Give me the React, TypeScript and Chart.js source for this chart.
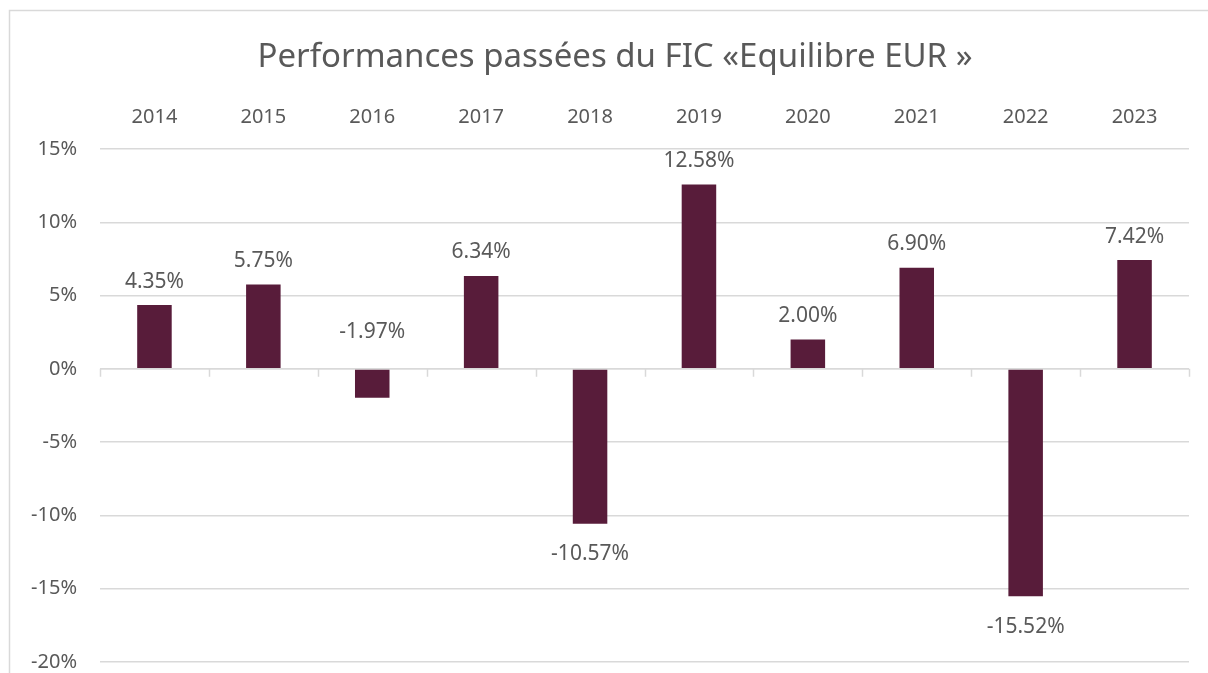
import React, { useEffect, useRef } from "react";
import { Chart, registerables } from "chart.js";

Chart.register(...registerables);

const years = ["2014", "2015", "2016", "2017", "2018", "2019", "2020", "2021", "2022", "2023"];
const performance = [4.35, 5.75, -1.97, 6.34, -10.57, 12.58, 2.0, 6.9, -15.52, 7.42];
const yTicks = [15, 10, 5, 0, -5, -10, -15, -20];
const titleText = "Performances passées du FIC «Equilibre EUR »";

const FONT = "'Noto Sans', sans-serif";
const TEXT = "#595959";
const GRID = "#d9d9d9";
const BAR = "#581c3a";

const framePlugin = {
  id: "frame",
  beforeDraw(chart: any) {
    const ctx = chart.ctx;
    ctx.save();
    ctx.fillStyle = "#ffffff";
    ctx.fillRect(0, 0, chart.width, chart.height);
    ctx.strokeStyle = GRID;
    ctx.lineWidth = 1.5;
    ctx.strokeRect(9.5, 10.5, chart.width + 20, chart.height + 20);
    ctx.font = `33px ${FONT}`;
    ctx.fillStyle = TEXT;
    ctx.textAlign = "center";
    ctx.textBaseline = "middle";
    ctx.fillText(titleText, 615, 58);
    ctx.restore();
  },
};

const zeroTicksPlugin = {
  id: "zeroTicks",
  afterDatasetsDraw(chart: any) {
    const ctx = chart.ctx;
    const y = chart.scales.y.getPixelForValue(0);
    const { left, right } = chart.chartArea;
    const n = years.length;
    ctx.save();
    ctx.strokeStyle = GRID;
    ctx.lineWidth = 1.5;
    ctx.beginPath();
    ctx.moveTo(left, y);
    ctx.lineTo(right, y);
    for (let i = 0; i <= n; i++) {
      const x = Math.round(left + ((right - left) * i) / n) + 0.5;
      ctx.moveTo(x, y);
      ctx.lineTo(x, y + 8);
    }
    ctx.stroke();
    ctx.restore();
  },
};

const labelsPlugin = {
  id: "valueLabels",
  afterDatasetsDraw(chart: any) {
    const ctx = chart.ctx;
    const meta = chart.getDatasetMeta(0);
    const zeroY = chart.scales.y.getPixelForValue(0);
    ctx.save();
    ctx.font = `21px ${FONT}`;
    ctx.fillStyle = TEXT;
    ctx.textAlign = "center";
    meta.data.forEach((bar: any, i: number) => {
      const v = performance[i];
      const txt = v.toFixed(2) + "%";
      if (v >= 0) {
        ctx.textBaseline = "bottom";
        ctx.fillText(txt, bar.x, bar.y - 13);
      } else if (v > -5) {
        ctx.textBaseline = "bottom";
        ctx.fillText(txt, bar.x, zeroY - 26);
      } else {
        ctx.textBaseline = "top";
        ctx.fillText(txt, bar.x, bar.y + 20);
      }
    });
    ctx.restore();
  },
};

export default function App() {
  const ref = useRef<HTMLCanvasElement>(null);
  useEffect(() => {
    if (!ref.current) return;
    const chart = new Chart(ref.current, {
      type: "bar",
      data: {
        labels: years,
        datasets: [
          {
            data: performance,
            backgroundColor: BAR,
            borderWidth: 0,
            barPercentage: 0.317,
            categoryPercentage: 1,
          },
        ],
      },
      plugins: [framePlugin, zeroTicksPlugin, labelsPlugin],
      options: {
        responsive: false,
        animation: false,
        layout: { padding: { left: 0, right: 19, top: 96, bottom: 38 } },
        plugins: {
          legend: { display: false },
          tooltip: { enabled: false },
          title: { display: false },
        },
        scales: {
          x: {
            position: "top",
            grid: { display: false, drawTicks: false },
            border: { display: false },
            ticks: {
              color: TEXT,
              font: { family: FONT, size: 20 },
              padding: 20,
              maxRotation: 0,
            },
            afterFit(scale: any) {
              scale.height = 53;
            },
          },
          y: {
            min: -20,
            max: 15,
            afterBuildTicks(scale: any) {
              scale.ticks = yTicks.map((v) => ({ value: v }));
            },
            grid: { color: GRID, lineWidth: 1.5, drawTicks: false },
            border: { display: false },
            ticks: {
              color: TEXT,
              font: { family: FONT, size: 20 },
              padding: 23,
              callback: (v: any) => v + "%",
            },
            afterFit(scale: any) {
              scale.width = 100;
            },
          },
        },
      },
    });
    return () => chart.destroy();
  }, []);
  return (
    <div style={{ position: "absolute", left: 0, top: 0, width: 1208, height: 700, overflow: "hidden" }}>
      <canvas ref={ref} width={1208} height={700} style={{ display: "block" }} />
    </div>
  );
}
